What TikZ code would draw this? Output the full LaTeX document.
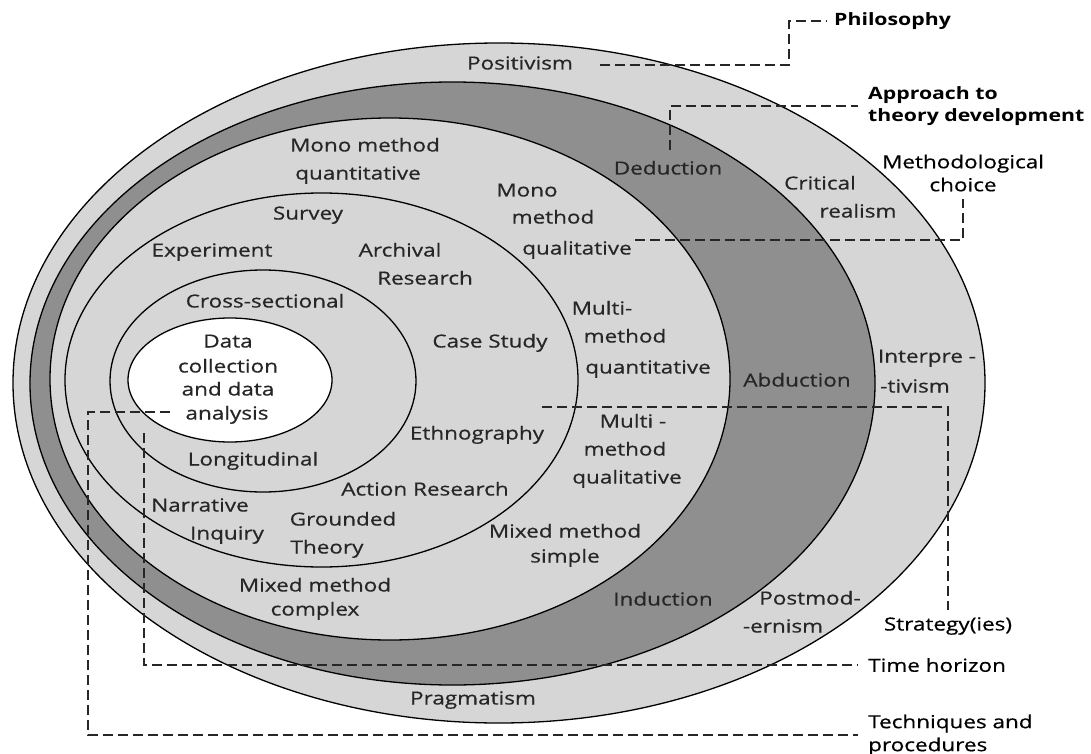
\documentclass[tikz,border=0pt]{standalone}
\usepackage{fontspec}
\setmainfont{Open Sans}[FakeStretch=1.25, UprightFeatures={FakeBold=0.6}]
\usetikzlibrary{shapes.geometric}
\definecolor{lightg}{RGB}{214,214,214}
\definecolor{darkg}{RGB}{143,143,143}
\definecolor{txt}{RGB}{38,38,38}
\begin{document}
\begin{tikzpicture}[x=1pt,y=-1pt,
  ring/.style={ellipse, draw=black, line width=1.3pt, inner sep=0pt},
  lbl/.style={font=\fontsize{18}{24}\selectfont, text=txt, inner sep=0pt, text height=13pt, text depth=4pt},
  layerlbl/.style={font=\fontsize{18}{23}\selectfont, text=black, inner sep=2pt},
  boldlbl/.style={font=\fontsize{17}{22}\selectfont\bfseries, text=black, inner sep=2pt},
  dashline/.style={dash pattern=on 10pt off 5pt, line width=1.3pt, black!85}
]
\useasboundingbox (0,0) rectangle (1091,754);

% layers
\node[ring, fill=lightg, minimum width=972pt, minimum height=680pt] (philRing) at (499,383) {};
\node[ring, fill=darkg, minimum width=845pt, minimum height=603pt] (apprRing) at (452.5,383.5) {};
\node[ring, fill=lightg, minimum width=680pt, minimum height=522pt] (methRing) at (390,379) {};
\node[ring, minimum width=513pt, minimum height=374pt] (stratRing) at (321.5,380) {};
\node[ring, minimum width=306pt, minimum height=222pt] (timeRing) at (263,381) {};
\node[ring, fill=white, minimum width=204pt, minimum height=124pt] (coreRing) at (230,380) {};

% layer names
\node[boldlbl, anchor=west] (philo) at (832,21) {Philosophy};
\node[boldlbl, anchor=west, align=left] (appr) at (866,106) {Approach to\\theory development};
\node[layerlbl, align=center] (meth) at (963,173) {Methodological\\choice};
\node[layerlbl] (strat) at (948,626) {Strategy(ies)};
\node[layerlbl, anchor=west] (timeh) at (866,665) {Time horizon};
\node[layerlbl, anchor=west, align=left] (tech) at (866,735) {Techniques and\\procedures};

% connector ends
\coordinate (phA) at (600,65);
\coordinate (phB) at (789,21);
\coordinate (apA) at (670,150);
\coordinate (mcA) at (635,240);
\coordinate (stA) at (542,407);
\coordinate (tmA) at (144,433);
\coordinate (tqA) at (170,412);
\coordinate (tqB) at (88,412);

\draw[dashline, shorten >=5pt] (phA) -| (phB) -- (philo.west);
\draw[dashline, shorten >=8pt] (apA) |- (appr.west);
\draw[dashline, shorten >=5pt] (mcA) -| (meth.south);
\draw[dashline, shorten >=5pt] (stA) -| (strat.north);
\draw[dashline, shorten >=8pt] (tmA) |- (timeh.west);
\draw[dashline, shorten >=8pt] (tqA) -- (tqB) |- (tech.west);

% philosophy ring
\node[lbl] (positivism) at (520,65) {Positivism};
\node[lbl] (critA) at (820,185) {Critical};
\node[lbl] (critB) at (858,213) {realism};
\node[lbl] (interA) at (927,358) {Interpre -};
\node[lbl] (interB) at (915,388) {-tivism};
\node[lbl] (postA) at (810,600) {Postmod-};
\node[lbl] (postB) at (783,628) {-ernism};
\node[lbl] (pragm) at (473,700) {Pragmatism};

% approach ring
\node[lbl] (deduct) at (668,170) {Deduction};
\node[lbl] (abduct) at (797,382) {Abduction};
\node[lbl] (induct) at (663,601) {Induction};

% methodological choice ring
\node[lbl] (mmqA) at (365,147) {Mono method};
\node[lbl] (mmqB) at (358,175) {quantitative};
\node[lbl] (mmlA) at (527,192) {Mono};
\node[lbl] (mmlB) at (553,219) {method};
\node[lbl] (mmlC) at (577,250) {qualitative};
\node[lbl] (mtqA) at (602,310) {Multi-};
\node[lbl] (mtqB) at (625,338) {method};
\node[lbl] (mtqC) at (648,369) {quantitative};
\node[lbl] (mtlA) at (633,423) {Multi -};
\node[lbl] (mtlB) at (625,451) {method};
\node[lbl] (mtlC) at (627,479) {qualitative};
\node[lbl] (mxsA) at (565,533) {Mixed method};
\node[lbl] (mxsB) at (565,558) {simple};
\node[lbl] (mxcA) at (315,587) {Mixed method};
\node[lbl] (mxcB) at (315,611) {complex};

% strategy ring
\node[lbl] (survey) at (308,215) {Survey};
\node[lbl] (experiment) at (212,252) {Experiment};
\node[lbl] (archA) at (400,252) {Archival};
\node[lbl] (archB) at (425,280) {Research};
\node[lbl] (casestudy) at (490,343) {Case Study};
\node[lbl] (ethno) at (477,435) {Ethnography};
\node[lbl] (action) at (425,491) {Action Research};
\node[lbl] (gtA) at (343,521) {Grounded};
\node[lbl] (gtB) at (327,549) {Theory};
\node[lbl] (narrA) at (200,507) {Narrative};
\node[lbl] (narrB) at (227,535) {Inquiry};

% time horizon ring
\node[lbl] (cross) at (265,303) {Cross-sectional};
\node[lbl] (longit) at (253,461) {Longitudinal};

% core
\node[lbl] (coreA) at (228,343) {Data};
\node[lbl] (coreB) at (228,368) {collection};
\node[lbl] (coreC) at (228,391) {and data};
\node[lbl] (coreD) at (227,415) {analysis};
\end{tikzpicture}
\end{document}
